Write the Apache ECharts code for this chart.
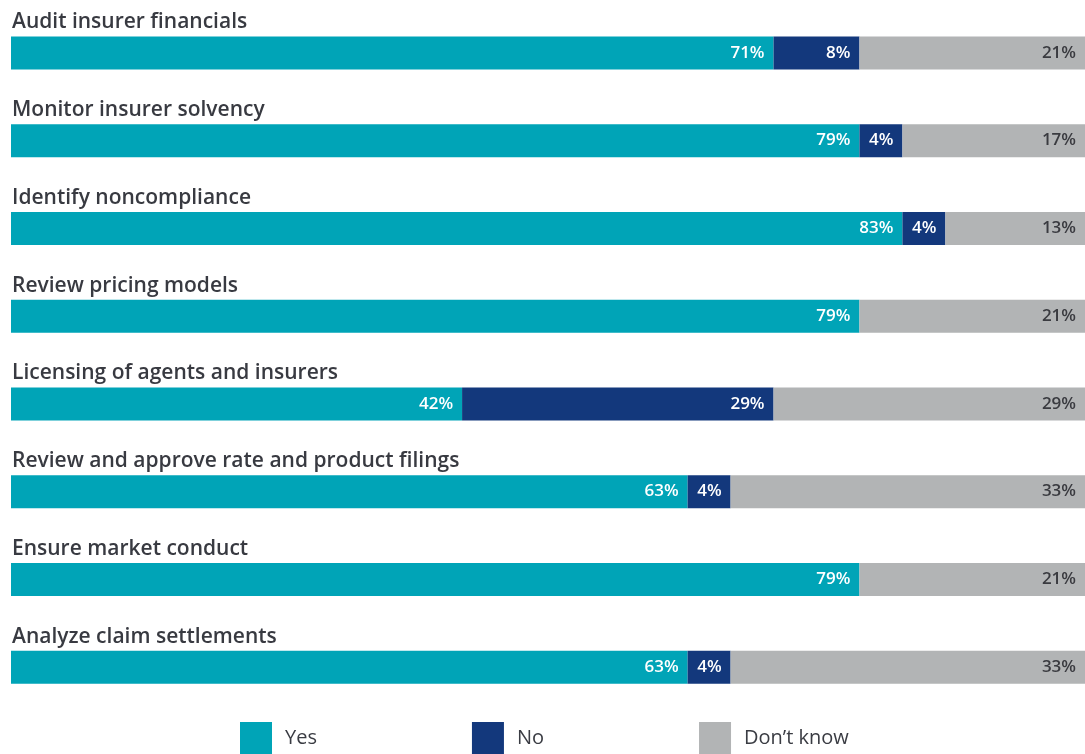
<!DOCTYPE html>
<html>
<head>
<meta charset="utf-8">
<script src="https://cdn.jsdelivr.net/npm/echarts@6/dist/echarts.min.js"></script>
<style>html,body{margin:0;padding:0;background:#fff}#c{width:1085px;height:754px}</style>
</head>
<body>
<div id="c"></div>
<script>
const categories = [
  'Audit insurer financials',
  'Monitor insurer solvency',
  'Identify noncompliance',
  'Review pricing models',
  'Licensing of agents and insurers',
  'Review and approve rate and product filings',
  'Ensure market conduct',
  'Analyze claim settlements'
];
const seriesNames = ['Yes', 'No', 'Don\u2019t know'];
const yesValues = [71, 79, 83, 79, 42, 63, 79, 63];
const noValues = [8, 4, 4, 0, 29, 4, 0, 4];
const dontKnowValues = [21, 17, 13, 21, 29, 33, 21, 33];

const colors = ['#00A4B7', '#13387C', '#B2B4B5'];
const labelColors = ['#ffffff', '#ffffff', '#3a3b40'];
const FONT = '"Open Sans", sans-serif';

function mk(name, data, i) {
  return {
    name: name,
    type: 'bar',
    stack: 'total',
    barWidth: 33,
    data: data,
    itemStyle: { color: colors[i] },
    label: {
      show: true,
      position: 'insideRight',
      distance: 9,
      color: labelColors[i],
      fontFamily: FONT,
      fontSize: 17,
      fontWeight: 600,
      formatter: p => p.value ? p.value + '%' : ''
    },
    emphasis: { disabled: true }
  };
}

const chart = echarts.init(document.getElementById('c'));
chart.setOption({
  animation: false,
  grid: { left: 11, right: 0, top: 9, bottom: 43 },
  xAxis: { type: 'value', min: 0, max: 100, show: false },
  yAxis: {
    type: 'category',
    data: categories,
    inverse: true,
    axisLine: { show: false },
    axisTick: { show: false },
    splitLine: { show: false },
    axisLabel: {
      inside: true,
      margin: 1,
      align: 'left',
      verticalAlign: 'bottom',
      padding: [0, 0, 20, 0],
      color: '#383a41',
      fontFamily: FONT,
      fontSize: 21,
      fontWeight: 600
    },
    z: 10
  },
  legend: {
    left: 235,
    top: 717,
    itemWidth: 32,
    itemHeight: 32,
    itemGap: 155,
    icon: 'rect',
    selectedMode: false,
    textStyle: { color: '#3a3c43', fontFamily: FONT, fontSize: 20, padding: [0, 0, 0, 8] },
    data: seriesNames
  },
  series: [
    mk(seriesNames[0], yesValues, 0),
    mk(seriesNames[1], noValues, 1),
    mk(seriesNames[2], dontKnowValues, 2)
  ]
});
</script>
</body>
</html>
